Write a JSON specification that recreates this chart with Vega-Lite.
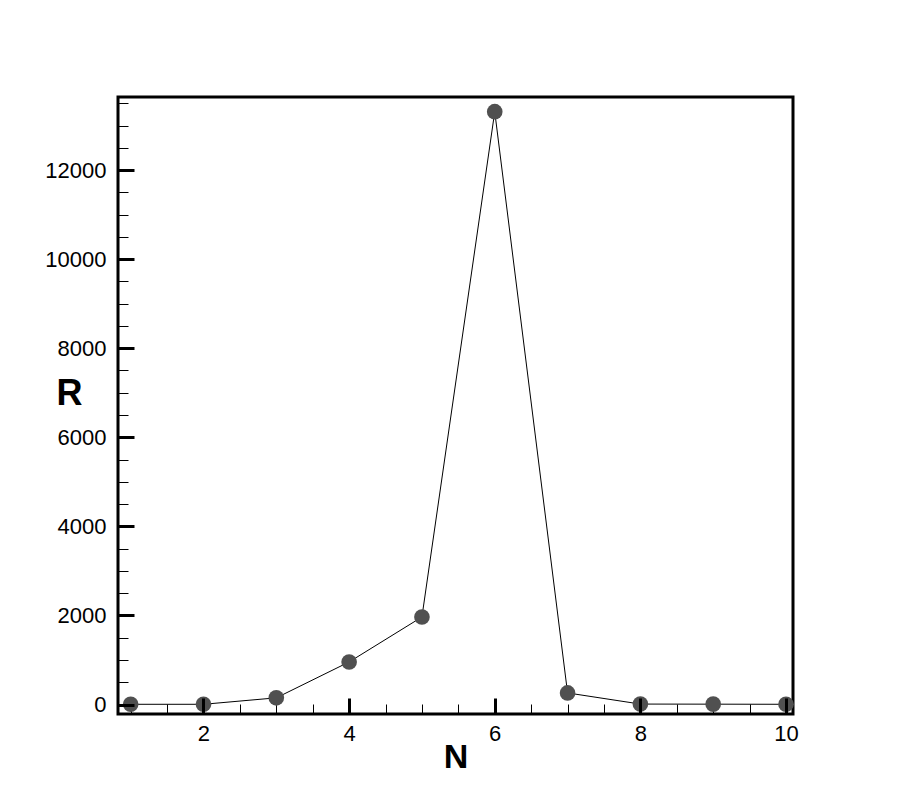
{
  "$schema": "https://vega.github.io/schema/vega-lite/v6.json",
  "autosize": "none",
  "width": 675,
  "height": 617,
  "padding": {"left": 118, "top": 97, "right": 110, "bottom": 89},
  "background": "white",
  "config": {
    "view": {"stroke": "black", "strokeWidth": 3},
    "axis": {"labelFont": "Liberation Sans", "titleFont": "Liberation Sans", "grid": false, "domain": false}
  },
  "data": {
    "values": [
      {"N": 1, "R": 5},
      {"N": 2, "R": 5},
      {"N": 3, "R": 150},
      {"N": 4, "R": 955},
      {"N": 5, "R": 1965},
      {"N": 6, "R": 13310},
      {"N": 7, "R": 260},
      {"N": 8, "R": 10},
      {"N": 9, "R": 8},
      {"N": 10, "R": 5}
    ]
  },
  "resolve": {"axis": {"x": "independent", "y": "independent"}},
  "layer": [
    {
      "mark": {"type": "line", "color": "black", "strokeWidth": 1},
      "encoding": {
        "x": {
          "field": "N", "type": "quantitative",
          "scale": {"domain": [0.826, 10.096], "nice": false, "zero": false},
          "axis": {
            "orient": "bottom", "values": [1, 1.5, 2.5, 3, 3.5, 4.5, 5, 5.5, 6.5, 7, 7.5, 8.5, 9, 9.5],
            "labels": false, "title": null, "tickSize": -10, "tickWidth": 1, "tickColor": "black", "zindex": 0
          }
        },
        "y": {
          "field": "R", "type": "quantitative",
          "scale": {"domain": [-213, 13640], "nice": false, "zero": false},
          "axis": {
            "orient": "left", "values": [500, 1000, 1500, 2500, 3000, 3500, 4500, 5000, 5500, 6500, 7000, 7500, 8500, 9000, 9500, 10500, 11000, 11500, 12500, 13000, 13500],
            "labels": false, "title": null, "tickSize": -10, "tickWidth": 1, "tickColor": "black", "zindex": 0
          }
        }
      }
    },
    {
      "mark": {"type": "point", "filled": true, "color": "#505050", "size": 245, "opacity": 1},
      "encoding": {
        "x": {
          "field": "N", "type": "quantitative",
          "axis": {
            "orient": "bottom", "values": [2, 4, 6, 8, 10], "format": "d",
            "tickSize": -16, "tickWidth": 3, "tickColor": "black", "zindex": 1,
            "labelFontSize": 22, "labelColor": "black", "labelPadding": 25,
            "title": "N", "titleFontSize": 34, "titleFontWeight": "bold", "titleColor": "black",
            "titleBaseline": "middle", "titleY": 43
          }
        },
        "y": {
          "field": "R", "type": "quantitative",
          "axis": {
            "orient": "left", "values": [0, 2000, 4000, 6000, 8000, 10000, 12000], "format": "d",
            "tickSize": -16, "tickWidth": 3, "tickColor": "black", "zindex": 1,
            "labelFontSize": 22, "labelColor": "black", "labelPadding": 28,
            "title": "R", "titleFontSize": 36, "titleFontWeight": "bold", "titleColor": "black",
            "titleAngle": 0, "titleAlign": "center", "titleBaseline": "middle", "titleX": -49, "titleY": 296
          }
        }
      }
    }
  ]
}
